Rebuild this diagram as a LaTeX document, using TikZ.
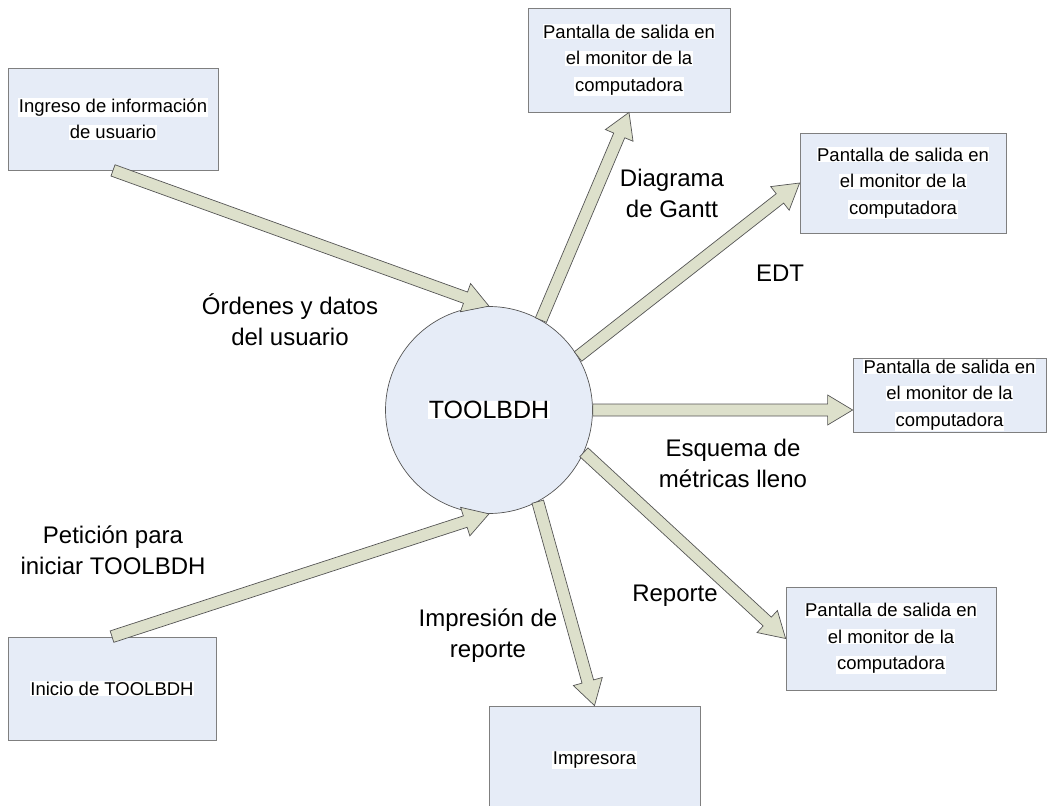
\documentclass[tikz,border=0pt]{standalone}
\usepackage{fontspec}
\setmainfont{Liberation Sans}
\usetikzlibrary{calc}
\definecolor{boxfill}{HTML}{E6ECF7}
\definecolor{boxline}{HTML}{7F7F7F}
\definecolor{arrfill}{HTML}{DDE0CB}
\definecolor{arrline}{HTML}{555555}
\newcommand{\wl}[1]{{\setlength{\fboxsep}{0.6pt}\colorbox{white}{#1}}}
\newcommand{\blockarrow}[2]{%
  \coordinate (hb) at ($(#2)!25pt!(#1)$);
  \draw[blk] ($(#1)!6pt!90:(#2)$) -- ($(hb)!6pt!-90:(#1)$) -- ($(hb)!15pt!-90:(#1)$)
    -- (#2) -- ($(hb)!15pt!90:(#1)$) -- ($(hb)!6pt!90:(#1)$) -- ($(#1)!6pt!-90:(#2)$) -- cycle;}
\tikzset{
  box/.style={draw=boxline, fill=boxfill, line width=0.8pt, inner sep=0pt, align=center,
    font=\fontsize{18.5}{26.5}\selectfont},
  lbl/.style={align=center, font=\fontsize{24}{31}\selectfont, inner sep=0pt},
  blk/.style={draw=arrline, fill=arrfill, line width=0.7pt, line join=miter},
}
\begin{document}
\begin{tikzpicture}[x=1pt,y=-1pt]
\useasboundingbox (0,0) rectangle (1048,805);
\node[box, minimum width=210pt, minimum height=102pt] (b1) at (113,119)
  {\wl{Ingreso de información}\\\wl{de usuario}};
\node[box, minimum width=202pt, minimum height=104pt] (b2) at (629,60)
  {\wl{Pantalla de salida en}\\\wl{el monitor de la}\\\wl{computadora}};
\node[box, minimum width=206pt, minimum height=100pt] (b3) at (903,183)
  {\wl{Pantalla de salida en}\\\wl{el monitor de la}\\\wl{computadora}};
\node[box, minimum width=193pt, minimum height=74pt] (b4) at (949.5,395)
  {\wl{Pantalla de salida en}\\\wl{el monitor de la}\\\wl{computadora}};
\node[box, minimum width=210pt, minimum height=103pt] (b5) at (891,638.5)
  {\wl{Pantalla de salida en}\\\wl{el monitor de la}\\\wl{computadora}};
\node[box, minimum width=211pt, minimum height=108pt] (b6) at (594.5,760)
  {\wl{Impresora}};
\node[box, minimum width=208pt, minimum height=103pt] (b7) at (112,688.5)
  {\wl{Inicio de TOOLBDH}};
\node[circle, draw=arrline, fill=boxfill, line width=0.7pt, minimum size=207pt, inner sep=0pt,
  font=\fontsize{25}{28}\selectfont] (c) at (489,410) {\wl{TOOLBDH}};

\blockarrow{b1.south}{c.north}
\blockarrow{b7.north}{c.south}
\blockarrow{c.60}{b2.south}
\blockarrow{c.31}{b3.west}
\blockarrow{c.east}{c.east -| b4.west}
\blockarrow{c.-24}{b5.west}
\blockarrow{c.-62}{b6.north}

\node[lbl] (l1) at (290,320) {Órdenes y datos\\del usuario};
\node[lbl] (l2) at (672,193) {Diagrama\\de Gantt};
\node[lbl] (l3) at (780,273) {EDT};
\node[lbl] (l4) at (733,463) {Esquema de\\métricas lleno};
\node[lbl] (l5) at (675,596) {Reporte};
\node[lbl] (l6) at (488,636) {Impresión de\\reporte};
\node[lbl] (l7) at (113,550) {Petición para\\iniciar TOOLBDH};
\end{tikzpicture}
\end{document}
